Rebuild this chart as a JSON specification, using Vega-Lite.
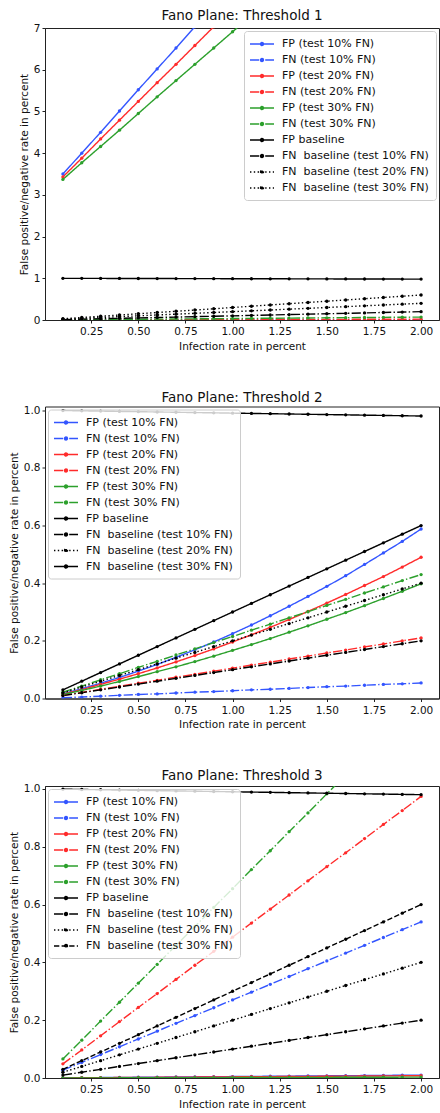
{
  "$schema": "https://vega.github.io/schema/vega-lite/v6.json",
  "background": "white",
  "padding": {"left": 8, "top": 8, "right": 0, "bottom": 0},
  "spacing": 37.5,
  "config": {
    "font": "DejaVu Sans",
    "view": {"stroke": "#222222", "strokeWidth": 1},
    "axis": {"grid": false, "domainColor": "#222222", "tickColor": "#222222", "labelColor": "#111111", "titleColor": "#111111", "labelFontSize": 10.5, "titleFontSize": 10.5, "titleFontWeight": "normal", "tickSize": 3},
    "axisX": {"labelPadding": 3.5, "titlePadding": 4},
    "axisY": {"labelPadding": 2, "titlePadding": 4},
    "title": {"fontSize": 13.5, "fontWeight": "normal", "offset": 1, "color": "#111111"},
    "legend": {"labelFontSize": 11, "labelColor": "#111111", "symbolType": "M-1.4,0L3.4,0M0.7,0A0.3,0.3 0 1,1 1.3,0A0.3,0.3 0 1,1 0.7,0", "symbolSize": 100, "symbolStrokeWidth": 1.4, "labelOffset": 19, "rowPadding": 5, "padding": 7, "fillColor": "rgba(255,255,255,0.8)", "strokeColor": "#cccccc", "cornerRadius": 3, "offset": 3, "labelLimit": 220}
  },
  "datasets": {
    "t1": [
      {"x":0.1,"a":3.50,"b":0.0002,"c":3.43,"d":0.001,"e":3.37,"f":0.0035,"g":0.999,"h":0.01,"i":0.02,"j":0.03},
      {"x":0.2,"a":4.00,"b":0.0004,"c":3.88,"d":0.002,"e":3.77,"f":0.007,"g":0.998,"h":0.02,"i":0.04,"j":0.06},
      {"x":0.3,"a":4.50,"b":0.0006,"c":4.34,"d":0.003,"e":4.16,"f":0.0105,"g":0.997,"h":0.03,"i":0.06,"j":0.09},
      {"x":0.4,"a":5.01,"b":0.0008,"c":4.79,"d":0.004,"e":4.55,"f":0.014,"g":0.996,"h":0.04,"i":0.08,"j":0.12},
      {"x":0.5,"a":5.52,"b":0.001,"c":5.24,"d":0.005,"e":4.95,"f":0.0175,"g":0.995,"h":0.05,"i":0.10,"j":0.15},
      {"x":0.6,"a":6.02,"b":0.0012,"c":5.69,"d":0.006,"e":5.35,"f":0.021,"g":0.994,"h":0.06,"i":0.12,"j":0.18},
      {"x":0.7,"a":6.52,"b":0.0014,"c":6.13,"d":0.007,"e":5.74,"f":0.0245,"g":0.993,"h":0.07,"i":0.14,"j":0.21},
      {"x":0.8,"a":7.03,"b":0.0016,"c":6.58,"d":0.008,"e":6.13,"f":0.028,"g":0.992,"h":0.08,"i":0.16,"j":0.24},
      {"x":0.9,"a":7.54,"b":0.0018,"c":7.03,"d":0.009,"e":6.52,"f":0.0315,"g":0.991,"h":0.09,"i":0.18,"j":0.27},
      {"x":1.0,"a":null,"b":0.002,"c":7.48,"d":0.010,"e":6.91,"f":0.035,"g":0.990,"h":0.10,"i":0.20,"j":0.30},
      {"x":1.1,"a":null,"b":0.0022,"c":null,"d":0.011,"e":7.30,"f":0.0385,"g":0.989,"h":0.11,"i":0.22,"j":0.33},
      {"x":1.2,"a":null,"b":0.0024,"c":null,"d":0.012,"e":null,"f":0.042,"g":0.988,"h":0.12,"i":0.24,"j":0.36},
      {"x":1.3,"a":null,"b":0.0026,"c":null,"d":0.013,"e":null,"f":0.0455,"g":0.987,"h":0.13,"i":0.26,"j":0.39},
      {"x":1.4,"a":null,"b":0.0028,"c":null,"d":0.014,"e":null,"f":0.049,"g":0.986,"h":0.14,"i":0.28,"j":0.42},
      {"x":1.5,"a":null,"b":0.003,"c":null,"d":0.015,"e":null,"f":0.0525,"g":0.985,"h":0.15,"i":0.30,"j":0.45},
      {"x":1.6,"a":null,"b":0.0032,"c":null,"d":0.016,"e":null,"f":0.056,"g":0.984,"h":0.16,"i":0.32,"j":0.48},
      {"x":1.7,"a":null,"b":0.0034,"c":null,"d":0.017,"e":null,"f":0.0595,"g":0.983,"h":0.17,"i":0.34,"j":0.51},
      {"x":1.8,"a":null,"b":0.0036,"c":null,"d":0.018,"e":null,"f":0.063,"g":0.982,"h":0.18,"i":0.36,"j":0.54},
      {"x":1.9,"a":null,"b":0.0038,"c":null,"d":0.019,"e":null,"f":0.0665,"g":0.981,"h":0.19,"i":0.38,"j":0.57},
      {"x":2.0,"a":null,"b":0.004,"c":null,"d":0.020,"e":null,"f":0.070,"g":0.980,"h":0.20,"i":0.40,"j":0.60}
    ],
    "t2": [
      {"x":0.1,"a":0.017,"b":0.003,"c":0.015,"d":0.011,"e":0.014,"f":0.022,"g":0.999,"h":0.01,"i":0.02,"j":0.03},
      {"x":0.2,"a":0.034,"b":0.005,"c":0.031,"d":0.021,"e":0.028,"f":0.043,"g":0.998,"h":0.02,"i":0.04,"j":0.06},
      {"x":0.3,"a":0.053,"b":0.008,"c":0.049,"d":0.032,"e":0.043,"f":0.065,"g":0.997,"h":0.03,"i":0.06,"j":0.09},
      {"x":0.4,"a":0.073,"b":0.011,"c":0.067,"d":0.042,"e":0.059,"f":0.086,"g":0.996,"h":0.04,"i":0.08,"j":0.12},
      {"x":0.5,"a":0.095,"b":0.014,"c":0.086,"d":0.053,"e":0.076,"f":0.108,"g":0.995,"h":0.05,"i":0.10,"j":0.15},
      {"x":0.6,"a":0.118,"b":0.016,"c":0.106,"d":0.063,"e":0.093,"f":0.129,"g":0.994,"h":0.06,"i":0.12,"j":0.18},
      {"x":0.7,"a":0.143,"b":0.019,"c":0.127,"d":0.074,"e":0.110,"f":0.151,"g":0.993,"h":0.07,"i":0.14,"j":0.21},
      {"x":0.8,"a":0.169,"b":0.022,"c":0.149,"d":0.084,"e":0.128,"f":0.172,"g":0.992,"h":0.08,"i":0.16,"j":0.24},
      {"x":0.9,"a":0.196,"b":0.024,"c":0.172,"d":0.095,"e":0.147,"f":0.194,"g":0.991,"h":0.09,"i":0.18,"j":0.27},
      {"x":1.0,"a":0.225,"b":0.027,"c":0.196,"d":0.105,"e":0.167,"f":0.215,"g":0.990,"h":0.10,"i":0.20,"j":0.30},
      {"x":1.1,"a":0.255,"b":0.030,"c":0.221,"d":0.116,"e":0.187,"f":0.237,"g":0.989,"h":0.11,"i":0.22,"j":0.33},
      {"x":1.2,"a":0.287,"b":0.032,"c":0.247,"d":0.126,"e":0.208,"f":0.258,"g":0.988,"h":0.12,"i":0.24,"j":0.36},
      {"x":1.3,"a":0.320,"b":0.035,"c":0.274,"d":0.137,"e":0.230,"f":0.280,"g":0.987,"h":0.13,"i":0.26,"j":0.39},
      {"x":1.4,"a":0.354,"b":0.038,"c":0.302,"d":0.147,"e":0.252,"f":0.301,"g":0.986,"h":0.14,"i":0.28,"j":0.42},
      {"x":1.5,"a":0.389,"b":0.041,"c":0.331,"d":0.158,"e":0.275,"f":0.323,"g":0.985,"h":0.15,"i":0.30,"j":0.45},
      {"x":1.6,"a":0.426,"b":0.043,"c":0.361,"d":0.168,"e":0.298,"f":0.344,"g":0.984,"h":0.16,"i":0.32,"j":0.48},
      {"x":1.7,"a":0.465,"b":0.046,"c":0.392,"d":0.179,"e":0.322,"f":0.366,"g":0.983,"h":0.17,"i":0.34,"j":0.51},
      {"x":1.8,"a":0.505,"b":0.049,"c":0.423,"d":0.189,"e":0.347,"f":0.387,"g":0.982,"h":0.18,"i":0.36,"j":0.54},
      {"x":1.9,"a":0.545,"b":0.051,"c":0.456,"d":0.200,"e":0.372,"f":0.409,"g":0.981,"h":0.19,"i":0.38,"j":0.57},
      {"x":2.0,"a":0.588,"b":0.054,"c":0.490,"d":0.210,"e":0.398,"f":0.430,"g":0.980,"h":0.20,"i":0.40,"j":0.60}
    ],
    "t3": [
      {"x":0.1,"a":0.0005,"b":0.027,"c":0.0004,"d":0.049,"e":0.0002,"f":0.066,"g":0.999,"h":0.01,"i":0.02,"j":0.03},
      {"x":0.2,"a":0.001,"b":0.054,"c":0.0008,"d":0.097,"e":0.0003,"f":0.131,"g":0.998,"h":0.02,"i":0.04,"j":0.06},
      {"x":0.3,"a":0.0015,"b":0.081,"c":0.0012,"d":0.146,"e":0.0005,"f":0.197,"g":0.997,"h":0.03,"i":0.06,"j":0.09},
      {"x":0.4,"a":0.002,"b":0.108,"c":0.0016,"d":0.195,"e":0.0006,"f":0.262,"g":0.996,"h":0.04,"i":0.08,"j":0.12},
      {"x":0.5,"a":0.0025,"b":0.135,"c":0.002,"d":0.244,"e":0.0008,"f":0.328,"g":0.995,"h":0.05,"i":0.10,"j":0.15},
      {"x":0.6,"a":0.003,"b":0.162,"c":0.0024,"d":0.292,"e":0.0009,"f":0.393,"g":0.994,"h":0.06,"i":0.12,"j":0.18},
      {"x":0.7,"a":0.0035,"b":0.189,"c":0.0028,"d":0.341,"e":0.0011,"f":0.459,"g":0.993,"h":0.07,"i":0.14,"j":0.21},
      {"x":0.8,"a":0.004,"b":0.216,"c":0.0032,"d":0.390,"e":0.0012,"f":0.524,"g":0.992,"h":0.08,"i":0.16,"j":0.24},
      {"x":0.9,"a":0.0045,"b":0.243,"c":0.0036,"d":0.438,"e":0.0014,"f":0.590,"g":0.991,"h":0.09,"i":0.18,"j":0.27},
      {"x":1.0,"a":0.005,"b":0.270,"c":0.004,"d":0.487,"e":0.0015,"f":0.655,"g":0.990,"h":0.10,"i":0.20,"j":0.30},
      {"x":1.1,"a":0.0055,"b":0.297,"c":0.0044,"d":0.536,"e":0.0017,"f":0.721,"g":0.989,"h":0.11,"i":0.22,"j":0.33},
      {"x":1.2,"a":0.006,"b":0.324,"c":0.0048,"d":0.584,"e":0.0018,"f":0.786,"g":0.988,"h":0.12,"i":0.24,"j":0.36},
      {"x":1.3,"a":0.0065,"b":0.351,"c":0.0052,"d":0.633,"e":0.002,"f":0.852,"g":0.987,"h":0.13,"i":0.26,"j":0.39},
      {"x":1.4,"a":0.007,"b":0.378,"c":0.0056,"d":0.682,"e":0.0021,"f":0.917,"g":0.986,"h":0.14,"i":0.28,"j":0.42},
      {"x":1.5,"a":0.0075,"b":0.405,"c":0.006,"d":0.731,"e":0.0023,"f":0.983,"g":0.985,"h":0.15,"i":0.30,"j":0.45},
      {"x":1.6,"a":0.008,"b":0.432,"c":0.0064,"d":0.779,"e":0.0024,"f":1.048,"g":0.984,"h":0.16,"i":0.32,"j":0.48},
      {"x":1.7,"a":0.0085,"b":0.459,"c":0.0068,"d":0.828,"e":0.0026,"f":null,"g":0.983,"h":0.17,"i":0.34,"j":0.51},
      {"x":1.8,"a":0.009,"b":0.486,"c":0.0072,"d":0.877,"e":0.0027,"f":null,"g":0.982,"h":0.18,"i":0.36,"j":0.54},
      {"x":1.9,"a":0.0095,"b":0.513,"c":0.0076,"d":0.925,"e":0.0029,"f":null,"g":0.981,"h":0.19,"i":0.38,"j":0.57},
      {"x":2.0,"a":0.010,"b":0.540,"c":0.008,"d":0.974,"e":0.003,"f":null,"g":0.980,"h":0.20,"i":0.40,"j":0.60}
    ]
  },
  "resolve": {"scale": {"x": "independent", "y": "independent", "color": "independent", "strokeDash": "independent"}, "legend": {"color": "independent", "strokeDash": "independent"}},
  "vconcat": [
    {
      "width": 394, "height": 292,
      "title": "Fano Plane: Threshold 1",
      "data": {"name": "t1"},
      "transform": [{"fold": ["a","b","c","d","e","f","g","h","i","j"], "as": ["k","y"]}],
      "mark": {"type": "line", "strokeWidth": 1.4, "clip": true, "point": {"filled": true, "size": 11}},
      "encoding": {
        "x": {"field": "x", "type": "quantitative", "scale": {"domain": [0.005, 2.095], "nice": false, "zero": false}, "axis": {"values": [0.25,0.5,0.75,1.0,1.25,1.5,1.75,2.0], "format": ".2f", "title": "Infection rate in percent"}},
        "y": {"field": "y", "type": "quantitative", "scale": {"domain": [0, 7], "nice": false}, "axis": {"values": [0,1,2,3,4,5,6,7], "format": "d", "title": "False positive/negative rate in percent"}},
        "color": {"field": "k", "type": "nominal", "scale": {"domain": ["a","b","c","d","e","f","g","h","i","j"], "range": ["#3355ff","#3355ff","#ff2b2b","#ff2b2b","#2ca02c","#2ca02c","#000000","#000000","#000000","#000000"]}, "legend": {"orient": "top-right", "title": null, "labelExpr": "['FP (test 10% FN)','FN (test 10% FN)','FP (test 20% FN)','FN (test 20% FN)','FP (test 30% FN)','FN (test 30% FN)','FP baseline','FN\u00a0 baseline (test 10% FN)','FN\u00a0 baseline (test 20% FN)','FN\u00a0 baseline (test 30% FN)'][indexof(['a','b','c','d','e','f','g','h','i','j'], datum.label)]"}},
        "strokeDash": {"field": "k", "type": "nominal", "scale": {"domain": ["a","b","c","d","e","f","g","h","i","j"], "range": [[1,0],[9.2,2.3,1.4,2.3],[1,0],[9.2,2.3,1.4,2.3],[1,0],[9.2,2.3,1.4,2.3],[1,0],[9.2,2.3,1.4,2.3],[1.4,2.4],[1.4,2.4]]}, "legend": {"orient": "top-right", "title": null, "labelExpr": "['FP (test 10% FN)','FN (test 10% FN)','FP (test 20% FN)','FN (test 20% FN)','FP (test 30% FN)','FN (test 30% FN)','FP baseline','FN\u00a0 baseline (test 10% FN)','FN\u00a0 baseline (test 20% FN)','FN\u00a0 baseline (test 30% FN)'][indexof(['a','b','c','d','e','f','g','h','i','j'], datum.label)]"}}
      }
    },
    {
      "width": 394, "height": 292,
      "title": "Fano Plane: Threshold 2",
      "data": {"name": "t2"},
      "transform": [{"fold": ["a","b","c","d","e","f","g","h","i","j"], "as": ["k","y"]}],
      "mark": {"type": "line", "strokeWidth": 1.4, "clip": true, "point": {"filled": true, "size": 11}},
      "encoding": {
        "x": {"field": "x", "type": "quantitative", "scale": {"domain": [0.005, 2.095], "nice": false, "zero": false}, "axis": {"values": [0.25,0.5,0.75,1.0,1.25,1.5,1.75,2.0], "format": ".2f", "title": "Infection rate in percent"}},
        "y": {"field": "y", "type": "quantitative", "scale": {"domain": [0, 1.013], "nice": false}, "axis": {"values": [0,0.2,0.4,0.6,0.8,1.0], "format": ".1f", "title": "False positive/negative rate in percent"}},
        "color": {"field": "k", "type": "nominal", "scale": {"domain": ["a","b","c","d","e","f","g","h","i","j"], "range": ["#3355ff","#3355ff","#ff2b2b","#ff2b2b","#2ca02c","#2ca02c","#000000","#000000","#000000","#000000"]}, "legend": {"orient": "top-left", "title": null, "labelExpr": "['FP (test 10% FN)','FN (test 10% FN)','FP (test 20% FN)','FN (test 20% FN)','FP (test 30% FN)','FN (test 30% FN)','FP baseline','FN\u00a0 baseline (test 10% FN)','FN\u00a0 baseline (test 20% FN)','FN\u00a0 baseline (test 30% FN)'][indexof(['a','b','c','d','e','f','g','h','i','j'], datum.label)]"}},
        "strokeDash": {"field": "k", "type": "nominal", "scale": {"domain": ["a","b","c","d","e","f","g","h","i","j"], "range": [[1,0],[9.2,2.3,1.4,2.3],[1,0],[9.2,2.3,1.4,2.3],[1,0],[9.2,2.3,1.4,2.3],[1,0],[9.2,2.3,1.4,2.3],[1.4,2.4],[1,0]]}, "legend": {"orient": "top-left", "title": null, "labelExpr": "['FP (test 10% FN)','FN (test 10% FN)','FP (test 20% FN)','FN (test 20% FN)','FP (test 30% FN)','FN (test 30% FN)','FP baseline','FN\u00a0 baseline (test 10% FN)','FN\u00a0 baseline (test 20% FN)','FN\u00a0 baseline (test 30% FN)'][indexof(['a','b','c','d','e','f','g','h','i','j'], datum.label)]"}}
      }
    },
    {
      "width": 394, "height": 292,
      "title": "Fano Plane: Threshold 3",
      "data": {"name": "t3"},
      "transform": [{"fold": ["a","b","c","d","e","f","g","h","i","j"], "as": ["k","y"]}],
      "mark": {"type": "line", "strokeWidth": 1.4, "clip": true, "point": {"filled": true, "size": 11}},
      "encoding": {
        "x": {"field": "x", "type": "quantitative", "scale": {"domain": [0.005, 2.095], "nice": false, "zero": false}, "axis": {"values": [0.25,0.5,0.75,1.0,1.25,1.5,1.75,2.0], "format": ".2f", "title": "Infection rate in percent"}},
        "y": {"field": "y", "type": "quantitative", "scale": {"domain": [0, 1.01], "nice": false}, "axis": {"values": [0,0.2,0.4,0.6,0.8,1.0], "format": ".1f", "title": "False positive/negative rate in percent"}},
        "color": {"field": "k", "type": "nominal", "scale": {"domain": ["a","b","c","d","e","f","g","h","i","j"], "range": ["#3355ff","#3355ff","#ff2b2b","#ff2b2b","#2ca02c","#2ca02c","#000000","#000000","#000000","#000000"]}, "legend": {"orient": "top-left", "title": null, "labelExpr": "['FP (test 10% FN)','FN (test 10% FN)','FP (test 20% FN)','FN (test 20% FN)','FP (test 30% FN)','FN (test 30% FN)','FP baseline','FN\u00a0 baseline (test 10% FN)','FN\u00a0 baseline (test 20% FN)','FN\u00a0 baseline (test 30% FN)'][indexof(['a','b','c','d','e','f','g','h','i','j'], datum.label)]"}},
        "strokeDash": {"field": "k", "type": "nominal", "scale": {"domain": ["a","b","c","d","e","f","g","h","i","j"], "range": [[1,0],[9.2,2.3,1.4,2.3],[1,0],[9.2,2.3,1.4,2.3],[1,0],[9.2,2.3,1.4,2.3],[1,0],[9.2,2.3,1.4,2.3],[1.4,2.4],[5.3,2.3]]}, "legend": {"orient": "top-left", "title": null, "labelExpr": "['FP (test 10% FN)','FN (test 10% FN)','FP (test 20% FN)','FN (test 20% FN)','FP (test 30% FN)','FN (test 30% FN)','FP baseline','FN\u00a0 baseline (test 10% FN)','FN\u00a0 baseline (test 20% FN)','FN\u00a0 baseline (test 30% FN)'][indexof(['a','b','c','d','e','f','g','h','i','j'], datum.label)]"}}
      }
    }
  ]
}
